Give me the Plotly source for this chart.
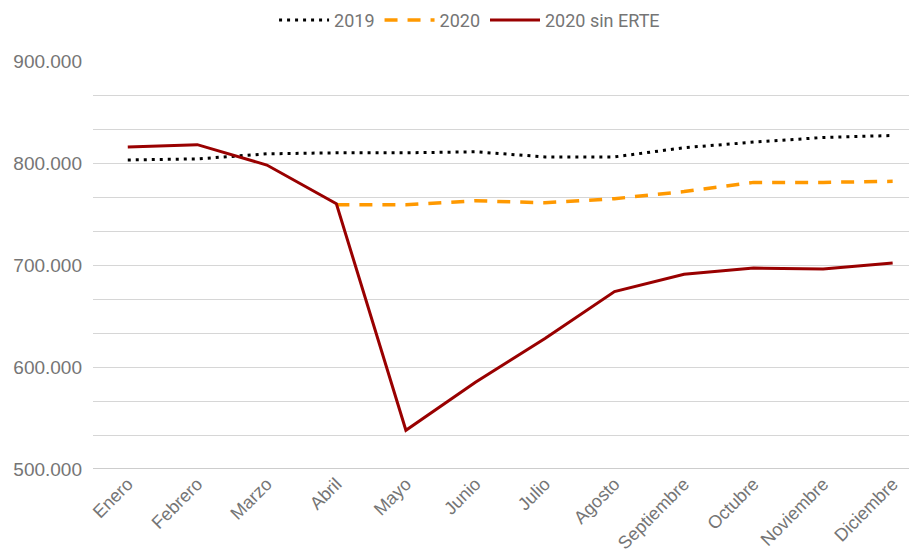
import plotly.graph_objects as go

meses = ["Enero", "Febrero", "Marzo", "Abril", "Mayo", "Junio", "Julio",
         "Agosto", "Septiembre", "Octubre", "Noviembre", "Diciembre"]
serie_2019 = [803000, 804000, 809000, 810000, 810000, 811000, 806000,
              806000, 815000, 820500, 825000, 827000]
serie_2020 = [None, None, None, 759000, 759000, 763000, 761000,
              765000, 772000, 781000, 781000, 782000]
serie_sin_erte = [815700, 818000, 798000, 760000, 538000, 585000, 628000,
                  674000, 691000, 697000, 696000, 702000]

fig = go.Figure()
fig.add_trace(go.Scatter(x=meses, y=serie_2019, name="2019", mode="lines",
                         line=dict(color="#000000", width=3, dash="3px,5px")))
fig.add_trace(go.Scatter(x=meses, y=serie_2020, name="2020", mode="lines",
                         line=dict(color="#FF9900", width=3.5, dash="13px,10px")))
fig.add_trace(go.Scatter(x=meses, y=serie_sin_erte, name="2020 sin ERTE", mode="lines",
                         line=dict(color="#990000", width=3)))

grey = "#757575"
fig.update_layout(
    width=917, height=557,
    margin=dict(l=85, r=8, t=53, b=96, autoexpand=False),
    paper_bgcolor="white", plot_bgcolor="white",
    separators=",.",
    font=dict(family="Liberation Sans, Arial", color=grey, size=15),
    legend=dict(orientation="h", x=0.457, xanchor="center", y=1.1, yanchor="middle",
                font=dict(family="Roboto", size=18, color=grey), itemwidth=50),
    showlegend=True,
)
fig.update_xaxes(range=[-0.5, 11.35], showgrid=False, showline=False, automargin=False,
                 tickangle=-45, tickfont=dict(size=18, color=grey), ticks="")
fig.update_yaxes(range=[500000, 900000], tick0=500000, dtick=100000, tickformat=",d",
                 automargin=False,
                 showgrid=True, gridcolor="#d6d6d6", gridwidth=1,
                 minor=dict(tick0=500000, dtick=100000/3, showgrid=True,
                            gridcolor="#d6d6d6", gridwidth=1),
                 zeroline=False, showline=False,
                 tickfont=dict(size=19, color=grey), ticks="", ticklabelstandoff=10)
fig.add_hline(y=500000, line=dict(color="#bdbdbd", width=1.5), layer="below")

fig.write_html("out.html")
